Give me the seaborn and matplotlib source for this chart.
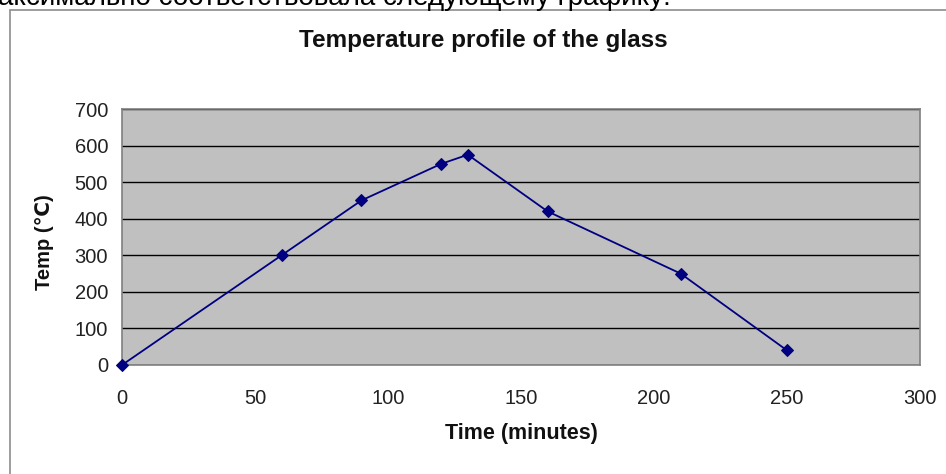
import matplotlib
matplotlib.use('Agg')
import matplotlib.pyplot as plt
from matplotlib.patches import Rectangle
import seaborn as sns
import pandas as pd

time_min = [0, 60, 90, 120, 130, 160, 210, 250]
temp_c = [0, 300, 450, 550, 575, 420, 250, 40]
x_ticks = [0, 50, 100, 150, 200, 250, 300]
y_ticks = [0, 100, 200, 300, 400, 500, 600, 700]

df = pd.DataFrame({'time': time_min, 'temp': temp_c})

sns.set_style('white')
plt.rcParams['font.family'] = ['Liberation Sans', 'DejaVu Sans']

W, H = 946, 474
fig = plt.figure(figsize=(W / 100, H / 100), dpi=100)
fig.patch.set_facecolor('white')

# cut-off text line above the chart (clipped at the top in the reference too)
fig.text(-2 / W, 1 - 5 / H, 'аксимально соответствовала следующему графику:',
         fontsize=20, va='baseline', ha='left', color='black')

# outer chart frame
fig.patches.append(Rectangle((9.5 / W, -0.05), 1.0, 1 - 9.5 / H + 0.05,
                             transform=fig.transFigure, fill=False,
                             edgecolor='#8c8c8c', linewidth=1.2))

ax = fig.add_axes([122 / W, 1 - 365 / H, (920 - 122) / W, (365 - 109) / H])
ax.set_facecolor('#c0c0c0')

sns.lineplot(data=df, x='time', y='temp', ax=ax, color='#000080', linewidth=1.3,
             marker='D', markersize=6, markeredgecolor='#000080', clip_on=False, zorder=5)

ax.set_xlim(0, 300)
ax.set_ylim(0, 700)
ax.set_xticks(x_ticks)
ax.set_yticks(y_ticks)
ax.tick_params(axis='both', labelsize=14.5, length=5, width=1, color='#555555',
               labelcolor='#222222', direction='out', pad=5)
ax.tick_params(axis='x', pad=12)
ax.grid(axis='y', color='black', linewidth=1)
ax.set_axisbelow(True)
for s in ax.spines.values():
    s.set_color('#808080')
    s.set_linewidth(1.2)

ax.set_xlabel('')
ax.set_ylabel('')
fig.text(483 / W, 1 - 40 / H, 'Temperature profile of the glass', fontsize=17.5,
         fontweight='bold', ha='center', va='center', color='#111111')
fig.text(521 / W, 1 - 433 / H, 'Time (minutes)', fontsize=15.5,
         fontweight='bold', ha='center', va='center', color='#111111')
fig.text(45 / W, 1 - 242 / H, 'Temp (℃)', fontsize=14.5, rotation=90,
         fontweight='bold', ha='center', va='center', color='#111111')

fig.savefig('out.png', dpi=100)
